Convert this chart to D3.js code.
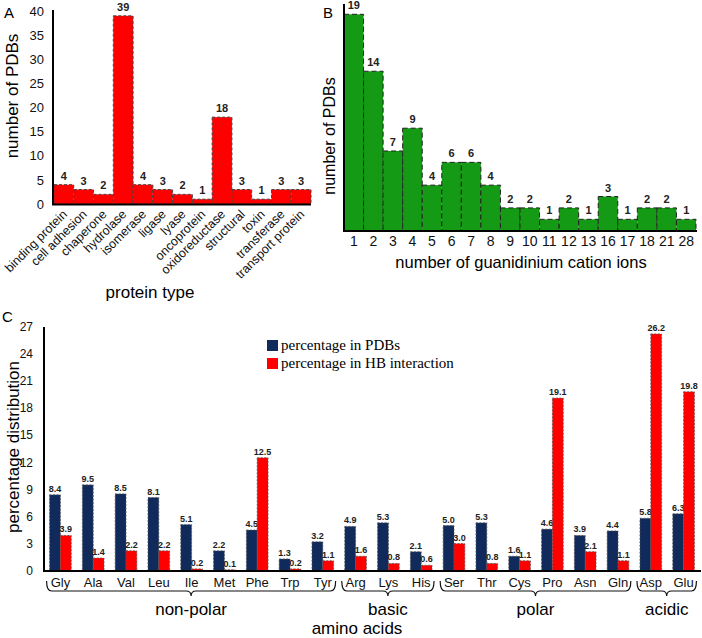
<!DOCTYPE html>
<html><head><meta charset="utf-8">
<script src="https://cdn.jsdelivr.net/npm/d3@7"></script>
<style>html,body{margin:0;padding:0;background:#fff}svg{display:block;font-family:"Liberation Sans",Arial,sans-serif}</style>
</head><body>
<script>
// Panel A
const proteinTypes = ["binding protein","cell adhesion","chaperone","hydrolase","isomerase","ligase","lyase","oncoprotein","oxidoreductase","structural","toxin","transferase","transport protein"];
const proteinCounts = [4,3,2,39,4,3,2,1,18,3,1,3,3];
const aTicks = [0,5,10,15,20,25,30,35,40];
// Panel B
const ionCounts = ["1","2","3","4","5","6","7","8","9","10","11","12","13","16","17","18","21","28"];
const ionPDBs = [19,14,7,9,4,6,6,4,2,2,1,2,1,3,1,2,2,1];
// Panel C
const aminoAcids = ["Gly","Ala","Val","Leu","Ile","Met","Phe","Trp","Tyr","Arg","Lys","His","Ser","Thr","Cys","Pro","Asn","Gln","Asp","Glu"];
const pctPDB = [8.4,9.5,8.5,8.1,5.1,2.2,4.5,1.3,3.2,4.9,5.3,2.1,5.0,5.3,1.6,4.6,3.9,4.4,5.8,6.3];
const pctHB  = [3.9,1.4,2.2,2.2,0.2,0.1,12.5,0.2,1.1,1.6,0.8,0.6,3.0,0.8,1.1,19.1,2.1,1.1,26.2,19.8];
const cTicks = [0,3,6,9,12,15,18,21,24,27];
const groups = [
  {name:"non-polar", first:"Gly", last:"Tyr"},
  {name:"basic", first:"Arg", last:"His"},
  {name:"polar", first:"Ser", last:"Gln"},
  {name:"acidic", first:"Asp", last:"Glu"}
];
const seriesNames = ["percentage in PDBs","percentage in HB interaction"];

const RED = "#ff0000", NAVY = "#102a5c", GREEN = "#159a15";
const W = 702, H = 638;
const svg = d3.select("body").append("svg").attr("width", W).attr("height", H);

// ---------- Panel A ----------
{
  const g = svg.append("g");
  const x = d3.scaleBand().domain(proteinTypes).range([54, 311]).padding(0);
  const y = d3.scaleLinear().domain([0, 40]).range([204, 11]);
  g.selectAll("rect.bar").data(proteinTypes).join("rect")
    .attr("x", d => x(d)).attr("width", x.bandwidth())
    .attr("y", (d,i) => y(proteinCounts[i])).attr("height", (d,i) => y(0) - y(proteinCounts[i]))
    .attr("fill", RED).attr("stroke", "#444").attr("stroke-width", 1).attr("stroke-dasharray", "3,2");
  g.selectAll("text.val").data(proteinTypes).join("text")
    .attr("x", d => x(d) + x.bandwidth()/2).attr("y", (d,i) => y(proteinCounts[i]) - 5)
    .attr("text-anchor", "middle").attr("font-size", 11).attr("font-weight", "bold").attr("fill", "#222")
    .text((d,i) => proteinCounts[i]);
  const ya = d3.axisLeft(y).tickValues(aTicks).tickSize(0).tickPadding(9);
  const ay = g.append("g").attr("transform", "translate(53,0)").call(ya);
  ay.select(".domain").remove();
  ay.selectAll("text").attr("font-size", 13).attr("font-family", "Liberation Sans, Arial").attr("fill", "#111");
  g.append("line").attr("x1", 53).attr("x2", 53).attr("y1", 10).attr("y2", 205).attr("stroke", "#000").attr("stroke-width", 2);
  g.append("line").attr("x1", 52).attr("x2", 311).attr("y1", 204.5).attr("y2", 204.5).attr("stroke", "#000").attr("stroke-width", 2);
  g.selectAll("text.cat").data(proteinTypes).join("text")
    .attr("transform", d => `translate(${x(d) + x.bandwidth()/2 + 4},${215}) rotate(-45)`)
    .attr("text-anchor", "end").attr("font-size", 12.5).attr("fill", "#111").text(d => d);
  g.append("text").attr("x", 150).attr("y", 298).attr("text-anchor", "middle").attr("font-size", 17).text("protein type");
  g.append("text").attr("transform", "translate(18,96) rotate(-90)").attr("text-anchor", "middle").attr("font-size", 17).text("number of PDBs");
  g.append("text").attr("x", 4).attr("y", 18).attr("font-size", 15).text("A");
}

// ---------- Panel B ----------
{
  const g = svg.append("g");
  const x = d3.scaleBand().domain(ionCounts).range([344, 696]).padding(0);
  const y = d3.scaleLinear().domain([0, 19]).range([230.7, 14.3]);
  g.selectAll("rect.bar").data(ionCounts).join("rect")
    .attr("x", d => x(d)).attr("width", x.bandwidth())
    .attr("y", (d,i) => y(ionPDBs[i])).attr("height", (d,i) => y(0) - y(ionPDBs[i]))
    .attr("fill", GREEN).attr("stroke", "#222").attr("stroke-width", 1).attr("stroke-dasharray", "5,3");
  g.selectAll("text.val").data(ionCounts).join("text")
    .attr("x", d => x(d) + x.bandwidth()/2).attr("y", (d,i) => y(ionPDBs[i]) - 5)
    .attr("text-anchor", "middle").attr("font-size", 11).attr("font-weight", "bold").attr("fill", "#222")
    .text((d,i) => ionPDBs[i]);
  g.append("line").attr("x1", 344).attr("x2", 344).attr("y1", 4).attr("y2", 231).attr("stroke", "#000").attr("stroke-width", 2);
  g.append("line").attr("x1", 343).attr("x2", 697).attr("y1", 231).attr("y2", 231).attr("stroke", "#000").attr("stroke-width", 2);
  const xa = d3.axisBottom(x).tickSize(0).tickPadding(4);
  const ax = g.append("g").attr("transform", "translate(0,232)").call(xa);
  ax.select(".domain").remove();
  ax.selectAll("text").attr("font-size", 14).attr("font-family", "Liberation Sans, Arial").attr("fill", "#111");
  g.append("text").attr("x", 521).attr("y", 268).attr("text-anchor", "middle").attr("font-size", 16.5).text("number of guanidinium cation ions");
  g.append("text").attr("transform", "translate(335,136) rotate(-90)").attr("text-anchor", "middle").attr("font-size", 16).text("number of PDBs");
  g.append("text").attr("x", 323).attr("y", 18).attr("font-size", 15).text("B");
}

// ---------- Panel C ----------
{
  const g = svg.append("g");
  const x = d3.scaleBand().domain(aminoAcids).range([44, 700]).paddingInner(0.34).paddingOuter(0.17);
  const xs = d3.scaleBand().domain([0,1]).range([0, x.bandwidth()]);
  const y = d3.scaleLinear().domain([0, 27]).range([570.7, 326.7]);
  const series = [pctPDB, pctHB], colors = [NAVY, RED];
  series.forEach((vals, si) => {
    g.selectAll(`rect.s${si}`).data(aminoAcids).join("rect").attr("class", `s${si}`)
      .attr("x", d => x(d) + xs(si)).attr("width", xs.bandwidth())
      .attr("y", (d,i) => y(vals[i])).attr("height", (d,i) => y(0) - y(vals[i]))
      .attr("fill", colors[si]).attr("stroke", "#555").attr("stroke-width", 0.8).attr("stroke-dasharray", "2,1.5");
    g.selectAll(`text.v${si}`).data(aminoAcids).join("text").attr("class", `v${si}`)
      .attr("x", d => x(d) + xs(si) + xs.bandwidth()/2).attr("y", (d,i) => y(vals[i]) - 3)
      .attr("text-anchor", "middle").attr("font-size", 9).attr("font-weight", "bold").attr("fill", "#222")
      .text((d,i) => vals[i].toFixed(1));
  });
  const ya = d3.axisLeft(y).tickValues(cTicks).tickSize(0).tickPadding(11);
  const ay = g.append("g").attr("transform", "translate(44,0)").call(ya);
  ay.select(".domain").remove();
  ay.selectAll("text").attr("font-size", 12).attr("font-family", "Liberation Sans, Arial").attr("fill", "#111");
  g.append("line").attr("x1", 44).attr("x2", 44).attr("y1", 327).attr("y2", 572).attr("stroke", "#000").attr("stroke-width", 2);
  g.append("line").attr("x1", 43).attr("x2", 701).attr("y1", 571).attr("y2", 571).attr("stroke", "#000").attr("stroke-width", 2);
  const xa = d3.axisBottom(x).tickSize(0).tickPadding(6);
  const ax = g.append("g").attr("transform", "translate(0,572)").call(xa);
  ax.select(".domain").remove();
  ax.selectAll("text").attr("font-size", 13).attr("font-family", "Liberation Sans, Arial").attr("fill", "#111");
  // braces
  const bTop = 581, bLine = 591, r = 5;
  groups.forEach(gr => {
    const x1 = x(gr.first) - 3, x2 = x(gr.last) + x.bandwidth() + 2, xm = (x1 + x2) / 2;
    const p = `M${x1},${bTop} Q${x1},${bLine} ${x1+r},${bLine} L${xm-r},${bLine} Q${xm},${bLine} ${xm},${bLine+5} Q${xm},${bLine} ${xm+r},${bLine} L${x2-r},${bLine} Q${x2},${bLine} ${x2},${bTop}`;
    g.append("path").attr("d", p).attr("fill", "none").attr("stroke", "#111").attr("stroke-width", 1.2);
    g.append("text").attr("x", xm).attr("y", 615).attr("text-anchor", "middle").attr("font-size", 17).text(gr.name);
  });
  g.append("text").attr("x", 357).attr("y", 634).attr("text-anchor", "middle").attr("font-size", 17).text("amino acids");
  g.append("text").attr("transform", "translate(19,447) rotate(-90)").attr("text-anchor", "middle").attr("font-size", 17).text("percentage distribution");
  g.append("text").attr("x", 2).attr("y", 322).attr("font-size", 15).text("C");
  // legend
  const lg = g.append("g").attr("transform", "translate(267,340)");
  seriesNames.forEach((s, i) => {
    lg.append("rect").attr("x", 0).attr("y", i*18).attr("width", 11).attr("height", 11).attr("fill", colors[i]);
    lg.append("text").attr("x", 14).attr("y", i*18 + 10).attr("font-size", 15)
      .attr("font-family", "Liberation Serif, Times New Roman, serif").text(s);
  });
}
</script>
</body></html>
